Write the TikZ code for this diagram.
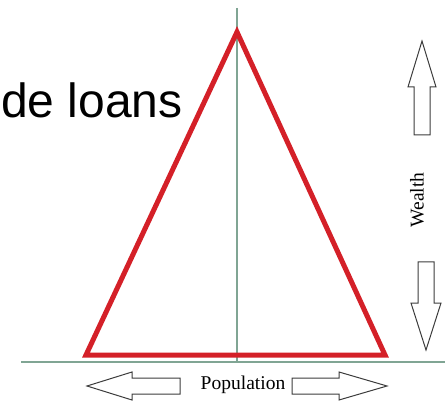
\documentclass[tikz,border=0pt]{standalone}
\usepackage{fontspec}
\setmainfont{Liberation Serif}
\newfontfamily\headfont{Liberation Sans}
\definecolor{axisgreen}{RGB}{128,165,148}
\definecolor{pyrred}{RGB}{212,32,40}
\definecolor{blockgray}{RGB}{60,60,60}
\begin{document}
\begin{tikzpicture}[x=1pt, y=-1pt,
  axis/.style={draw=axisgreen, line width=1.2pt},
  pyramid/.style={draw=pyrred, line width=5pt, line join=miter},
  blockarrow/.style={draw=blockgray, line width=1pt, fill=white, line join=miter},
  caption/.style={font=\fontsize{19.5}{19.5}\selectfont, inner sep=0pt}]
\useasboundingbox (0,0) rectangle (445,401);
\clip (0,0) rectangle (445,401);
% axes
\coordinate (top) at (237,8);
\coordinate (origin) at (237,362);
\coordinate (left) at (21,362);
\coordinate (right) at (445,362);
\draw[axis] (top) -- (origin);
\draw[axis] (left) -- (right);
% pyramid
\coordinate (apex) at (237,32);
\coordinate (bl) at (86,355);
\coordinate (br) at (385,355);
\draw[pyramid] (bl) -- (apex) -- (br) -- cycle;
% heading
\node (loans) [anchor=base west, inner sep=0pt, font=\headfont\fontsize{48}{48}\selectfont] at (1,118) {de loans};
% population arrows
\node (pop) [caption] at (243,385) {Population};
\draw[blockarrow] (87,386) -- (132,372) -- (132,378) -- (180,378) -- (180,394) -- (132,394) -- (132,400) -- cycle;
\draw[blockarrow] (387,386) -- (339,372) -- (339,378) -- (292,378) -- (292,394) -- (339,394) -- (339,400) -- cycle;
% wealth arrows
\node (wealth) [caption, rotate=90] at (417,200) {Wealth};
\draw[blockarrow] (422,41) -- (408,87) -- (414,87) -- (414,135) -- (430,135) -- (430,87) -- (436,87) -- cycle;
\draw[blockarrow] (426,350) -- (411,303) -- (418,303) -- (418,262) -- (434,262) -- (434,303) -- (441,303) -- cycle;
\end{tikzpicture}
\end{document}
